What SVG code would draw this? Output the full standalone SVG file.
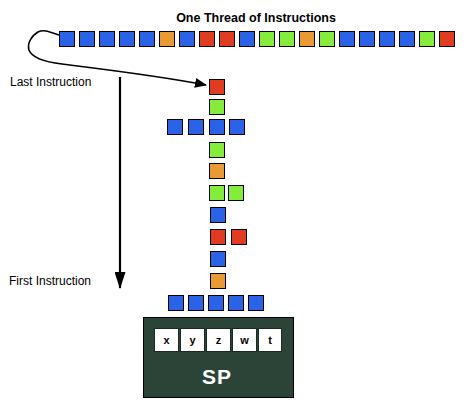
<svg xmlns="http://www.w3.org/2000/svg" width="466" height="403" viewBox="0 0 466 403">
<style>
.sq{stroke:#000;stroke-width:1}
.b{fill:#2a63e6}.o{fill:#ea9a34}.r{fill:#e03c22}.g{fill:#86ec3c}
.lbl{font-family:"Liberation Sans",Arial,sans-serif;font-size:12px;fill:#000}
.title{font-family:"Liberation Sans",Arial,sans-serif;font-size:12.5px;font-weight:bold;fill:#000}
.reg{fill:#fff;stroke:#1a2a22;stroke-width:1}
.regt{font-family:"Liberation Sans",Arial,sans-serif;font-size:11px;font-weight:bold;fill:#000;text-anchor:middle}
</style>
<defs>
<marker id="ah" markerWidth="12" markerHeight="10" refX="11" refY="5" orient="auto" markerUnits="userSpaceOnUse" viewBox="0 0 12 10">
<path d="M0,0 L12,5 L0,10 z" fill="#000"/>
</marker>
<marker id="ah2" markerWidth="17" markerHeight="11" refX="16" refY="5.5" orient="auto" markerUnits="userSpaceOnUse" viewBox="0 0 17 11">
<path d="M0,0 L17,5.5 L0,11 z" fill="#000"/>
</marker>
</defs>
<text class="title" x="256" y="22" text-anchor="middle">One Thread of Instructions</text>
<g id="thread">
<rect class="sq b" x="59.5" y="31.5" width="15" height="15"/>
<rect class="sq b" x="79.5" y="31.5" width="15" height="15"/>
<rect class="sq b" x="99.5" y="31.5" width="15" height="15"/>
<rect class="sq b" x="119.5" y="31.5" width="15" height="15"/>
<rect class="sq b" x="139.5" y="31.5" width="15" height="15"/>
<rect class="sq o" x="159.5" y="31.5" width="15" height="15"/>
<rect class="sq b" x="179.5" y="31.5" width="15" height="15"/>
<rect class="sq r" x="199.5" y="31.5" width="15" height="15"/>
<rect class="sq r" x="219.5" y="31.5" width="15" height="15"/>
<rect class="sq b" x="239.5" y="31.5" width="15" height="15"/>
<rect class="sq g" x="259.5" y="31.5" width="15" height="15"/>
<rect class="sq g" x="279.5" y="31.5" width="15" height="15"/>
<rect class="sq o" x="299.5" y="31.5" width="15" height="15"/>
<rect class="sq g" x="319.5" y="31.5" width="15" height="15"/>
<rect class="sq b" x="339.5" y="31.5" width="15" height="15"/>
<rect class="sq b" x="359.5" y="31.5" width="15" height="15"/>
<rect class="sq b" x="379.5" y="31.5" width="15" height="15"/>
<rect class="sq b" x="399.5" y="31.5" width="15" height="15"/>
<rect class="sq g" x="419.5" y="31.5" width="15" height="15"/>
<rect class="sq r" x="439.5" y="31.5" width="15" height="15"/>
</g>
<g id="stack">
<rect class="sq r" x="209.5" y="79.5" width="15" height="15"/>
<rect class="sq g" x="209.5" y="99.5" width="15" height="15"/>
<rect class="sq b" x="167.5" y="119.5" width="15" height="15"/>
<rect class="sq b" x="188.5" y="119.5" width="15" height="15"/>
<rect class="sq b" x="209.5" y="119.5" width="15" height="15"/>
<rect class="sq b" x="229.5" y="119.5" width="15" height="15"/>
<rect class="sq g" x="209.5" y="142.5" width="15" height="15"/>
<rect class="sq o" x="209.5" y="163.5" width="15" height="15"/>
<rect class="sq g" x="209.5" y="185.5" width="15" height="15"/>
<rect class="sq g" x="228.5" y="185.5" width="15" height="15"/>
<rect class="sq b" x="210.5" y="207.5" width="15" height="15"/>
<rect class="sq r" x="210.5" y="229.5" width="15" height="15"/>
<rect class="sq r" x="231.5" y="229.5" width="15" height="15"/>
<rect class="sq b" x="210.5" y="251.5" width="15" height="15"/>
<rect class="sq o" x="210.5" y="273.5" width="15" height="15"/>
<rect class="sq b" x="168.5" y="295.5" width="15" height="15"/>
<rect class="sq b" x="188.5" y="295.5" width="15" height="15"/>
<rect class="sq b" x="208.5" y="295.5" width="15" height="15"/>
<rect class="sq b" x="228.5" y="295.5" width="15" height="15"/>
<rect class="sq b" x="248.5" y="295.5" width="15" height="15"/>
</g>
<g id="labels">
<text class="lbl" x="10" y="86">Last Instruction</text>
<text class="lbl" x="9" y="285">First Instruction</text>
</g>
<g id="connectors" fill="none" stroke="#000">
<path d="M59,35 C50,32 44,29 38,32 C31,36 27,44 29,50 C32,58 45,62 62,64 C110,70 160,76 206,85" stroke-width="1.6" marker-end="url(#ah)"/>
<line x1="120" y1="77" x2="120" y2="288" stroke-width="2.2" marker-end="url(#ah2)"/>
</g>
<g id="sp">
<rect x="143.5" y="317.5" width="150" height="80" fill="#2b4437" stroke="#000" stroke-width="1"/>
<rect class="reg" x="154.5" y="328.5" width="24" height="23"/>
<rect class="reg" x="180.5" y="328.5" width="24" height="23"/>
<rect class="reg" x="206.5" y="328.5" width="24" height="23"/>
<rect class="reg" x="232.5" y="328.5" width="24" height="23"/>
<rect class="reg" x="258.5" y="328.5" width="23" height="23"/>
<text class="regt" x="166.5" y="344">x</text>
<text class="regt" x="192.5" y="344">y</text>
<text class="regt" x="218.5" y="344">z</text>
<text class="regt" x="244.5" y="344">w</text>
<text class="regt" x="270" y="344">t</text>
<text x="217" y="384" text-anchor="middle" font-family="'Liberation Sans',Arial,sans-serif" font-size="21" font-weight="bold" letter-spacing="1" fill="#fff">SP</text>
</g>
</svg>
